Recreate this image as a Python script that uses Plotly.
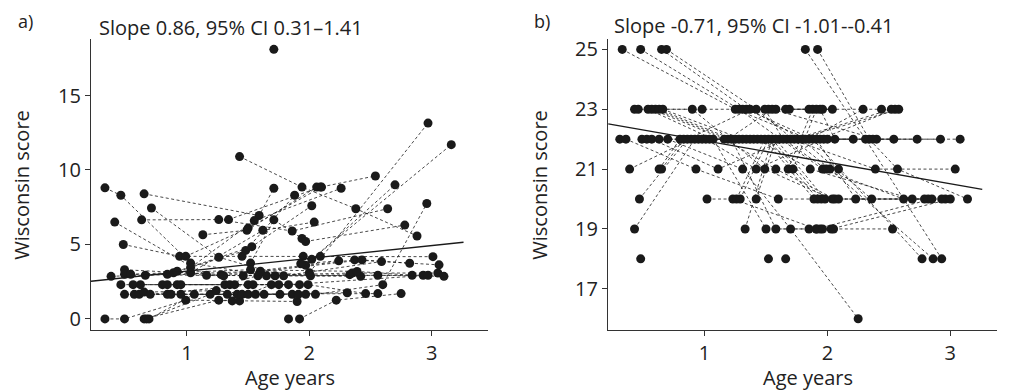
import plotly.graph_objects as go

# ---------------- Panel a data (subjects: age years, Wisconsin score) ----------------
ages_a = [
    [0.33, 0.49, 0.99, 1.37, 1.90],
    [0.65, 1.26, 1.43],
    [0.67, 1.19, 1.76],
    [0.69, 1.06, 1.63, 2.31],
    [1.92, 2.22, 2.75],
    [1.83],
    [0.33, 0.46, 1.03, 1.65, 2.42],
    [0.65, 1.59, 1.71],
    [0.63, 1.26, 1.86, 2.64],
    [0.41, 1.16, 1.72, 2.33],
    [0.71, 1.26, 1.79, 2.59],
    [0.48, 0.94, 1.45, 2.09, 3.01],
    [1.43, 1.94, 2.38, 2.88],
    [1.34, 2.09, 2.54],
    [1.13, 1.49, 2.06],
    [0.99, 1.50, 2.10],
    [1.03, 1.55, 2.26],
    [0.89, 1.48, 1.88],
    [0.92, 1.53, 2.02],
    [1.03, 1.62, 2.04],
    [1.71],
    [1.52, 1.71, 1.94],
    [2.00, 2.97],
    [2.02, 3.16],
    [1.97, 2.70],
    [2.05, 2.60, 2.96],
    [1.97, 2.78],
    [0.38, 0.84, 1.46, 2.35, 3.05],
    [0.49, 1.28, 2.37, 3.06],
    [0.49, 1.30, 2.43, 2.82],
    [0.54, 1.52, 2.39, 2.84],
    [0.66, 1.60, 2.01, 2.56, 3.10],
    [0.46, 0.80, 1.31, 1.58, 2.93],
    [0.56, 0.92, 1.35, 1.83, 2.97],
    [0.62, 0.95, 1.39, 1.92],
    [0.84, 1.50, 1.99, 2.46],
    [0.49, 0.84, 1.33, 1.86],
    [0.57, 0.87, 1.41, 1.91, 2.56],
    [0.61, 0.95, 1.45, 1.97],
    [0.65, 1.24, 1.50, 1.69],
    [0.70, 1.54, 1.75],
    [1.56],
    [1.93, 2.24],
    [1.95],
]
scores_a = [
    [0, 0, 1.26, 1.21, 1.17],
    [0, 1.26, 1.21],
    [0, 1.65, 1.65],
    [0, 1.65, 1.65, 1.76],
    [0, 1.26, 1.7],
    [0],
    [8.8, 8.3, 3.75, 2.9, 2.86],
    [8.4, 6.94, 8.77],
    [6.65, 6.67, 5.9, 7.4],
    [6.5, 2.93, 2.9, 2.97],
    [7.45, 4.14, 2.9, 3.85],
    [5.0, 4.2, 4.2, 4.2, 4.18],
    [10.9, 8.85, 7.4, 5.57],
    [6.67, 8.85, 9.6],
    [5.65, 5.95, 8.85],
    [4.2, 6.1, 8.85],
    [3.45, 6.6, 8.77],
    [3.1, 4.6, 8.3],
    [3.2, 4.85, 7.6],
    [3.1, 5.95, 6.5],
    [18.1],
    [3.75, 6.65, 5.4],
    [3.1, 13.15],
    [4.0, 11.7],
    [3.6, 9.0],
    [1.65, 2.3, 7.75],
    [5.2, 6.3],
    [2.86, 3.0, 2.9, 3.08, 3.08],
    [3.3, 2.97, 3.96, 3.63],
    [3.0, 2.9, 3.96, 3.74],
    [3.0, 3.3, 3.19, 2.93],
    [2.93, 3.2, 2.9, 2.93, 2.86],
    [2.3, 2.3, 2.3, 2.9, 2.93],
    [2.3, 2.3, 2.3, 2.3, 2.93],
    [2.3, 2.3, 2.3, 2.3],
    [2.3, 2.3, 2.3, 1.7],
    [1.65, 1.65, 1.65, 1.65],
    [1.65, 1.65, 1.65, 1.65, 1.7],
    [1.65, 1.65, 1.65, 1.65],
    [1.8, 1.9, 1.65, 2.3],
    [1.65, 2.3, 2.3],
    [1.65],
    [3.7, 3.9],
    [4.2],
]

# ---------------- Panel b data ----------------
ages_b = [
    [0.33, 1.25, 1.85, 2.29],
    [0.48, 1.28, 1.96, 2.62],
    [0.65, 1.34, 1.88, 2.77],
    [0.69, 1.42, 2.02, 2.86],
    [1.82, 2.31, 2.93],
    [1.92, 2.34, 2.57, 3.14],
    [0.31, 0.36, 0.93, 1.60, 2.79],
    [0.43, 0.90, 1.49, 2.04, 2.82],
    [0.46, 0.98, 1.52, 2.44],
    [0.54, 1.07, 1.50, 1.91, 2.85],
    [0.57, 1.16, 1.58, 2.06, 2.96],
    [0.60, 1.19, 1.55, 2.40],
    [0.63, 1.22, 1.58, 1.94, 2.53],
    [0.66, 1.31, 1.94, 2.55],
    [0.49, 1.01, 1.42, 1.97, 2.54],
    [0.53, 1.04, 1.61, 2.21],
    [0.57, 1.11, 1.67, 2.37, 3.08],
    [0.63, 1.25, 1.70, 2.39, 3.04],
    [0.70, 1.31, 1.70, 2.25],
    [0.39, 0.89, 1.37, 2.00, 2.73],
    [0.63, 0.80, 1.28, 1.73, 2.52],
    [0.65, 0.83, 1.34, 1.76, 2.58],
    [0.47, 0.86, 1.37, 1.79, 2.36],
    [0.43, 0.92, 1.40, 1.82, 2.92],
    [0.48],
    [0.95, 1.43, 1.86, 2.69],
    [0.98, 1.46, 1.91, 2.23, 2.93],
    [1.02, 1.23, 1.91, 2.03, 3.00],
    [1.26, 1.49, 1.89, 2.09],
    [1.29, 1.52, 1.92],
    [1.33, 1.55, 1.95],
    [1.42, 1.58, 1.98],
    [1.49, 1.64, 1.99, 2.09],
    [1.31, 1.58, 2.04],
    [1.66, 1.94, 2.06],
    [1.68, 1.88],
    [1.72, 1.91],
    [1.69, 1.85, 1.96],
    [1.85, 2.05],
    [1.96],
    [1.52],
    [1.66],
]
scores_b = [
    [25, 23, 22, 23],
    [25, 23, 21, 20],
    [25, 23, 22, 18],
    [25, 23, 21, 18],
    [25, 22, 18],
    [25, 22, 21, 20],
    [22, 22, 21, 20, 20],
    [23, 23, 21, 20, 20],
    [23, 23, 23, 23],
    [23, 22, 19, 19, 20],
    [23, 22, 21, 20, 20],
    [23, 22, 23, 22],
    [23, 22, 19, 19, 19],
    [23, 22, 22, 23],
    [22, 22, 21, 22, 22],
    [22, 22, 22, 22],
    [22, 21, 22, 22, 22],
    [22, 22, 22, 21, 21],
    [22, 21, 19, 16],
    [21, 22, 22, 22, 22],
    [21, 22, 22, 22, 23],
    [21, 22, 22, 22, 23],
    [20, 22, 23, 22, 20],
    [19, 22, 22, 22, 22],
    [18],
    [22, 22, 21, 20],
    [22, 22, 22, 20, 20],
    [20, 20, 19, 19, 20],
    [20, 22, 20, 20],
    [20, 22, 20],
    [19, 22, 20],
    [20, 22, 20],
    [23, 22, 21, 21],
    [23, 23, 23],
    [23, 23, 22],
    [21, 23],
    [21, 23],
    [23, 23, 23],
    [19, 19],
    [19],
    [18],
    [18],
]

# regression fits (intercept, slope)
fit_a = (2.344, 0.86)
fit_b = (22.67, -0.72)
fit_x_span = [0.216, 3.26]

titles = ["Slope 0.86, 95% CI 0.31\u20131.41", "Slope -0.71, 95% CI -1.01--0.41"]
panel_labels = ["a)", "b)"]
yticks_a = [0, 5, 10, 15]
yticks_b = [17, 19, 21, 23, 25]
xticks = [1, 2, 3]

FONT = "Open Sans"
INK = "#1a1a1a"
TXT = "#222222"
OFF = 8                      # page body margin of the html page
W, H = 1009 - OFF, 391 - OFF


def px_x(p):
    return (p - OFF) / W


def px_y(p):
    return 1 - (p - OFF) / H


fig = go.Figure()


def add_panel(ages, scores, fit, xa, ya):
    lx, ly = [], []
    for a, s in zip(ages, scores):
        if len(a) > 1:
            lx += a + [None]
            ly += s + [None]
    fig.add_trace(go.Scatter(x=lx, y=ly, mode="lines", xaxis=xa, yaxis=ya,
                             line=dict(color=INK, width=0.8, dash="3px,2.5px"),
                             hoverinfo="skip", showlegend=False))
    mx = [v for a in ages for v in a]
    my = [v for s in scores for v in s]
    fig.add_trace(go.Scatter(x=mx, y=my, mode="markers", xaxis=xa, yaxis=ya,
                             marker=dict(color=INK, size=9, line=dict(width=0)),
                             showlegend=False))
    b0, b1 = fit
    fig.add_trace(go.Scatter(x=fit_x_span, y=[b0 + b1 * v for v in fit_x_span],
                             mode="lines", xaxis=xa, yaxis=ya,
                             line=dict(color=INK, width=1.3), showlegend=False))


add_panel(ages_a, scores_a, fit_a, "x", "y")
add_panel(ages_b, scores_b, fit_b, "x2", "y2")

axis_common = dict(showline=True, linecolor="#333333", linewidth=1.3, ticks="outside",
                   ticklen=5, tickwidth=1.2, tickcolor="#333333", showgrid=False,
                   zeroline=False, tickfont=dict(family=FONT, size=20, color=TXT))

ydom = [px_y(331), px_y(36)]
fig.update_layout(
    width=W, height=H, margin=dict(l=0, r=0, t=0, b=0),
    paper_bgcolor="white", plot_bgcolor="white",
    xaxis=dict(domain=[px_x(91), px_x(488)], range=[0.216, 3.46], tickvals=xticks,
               anchor="y", **axis_common),
    yaxis=dict(domain=ydom, range=[-0.73, 18.82], tickvals=yticks_a, anchor="x",
               **axis_common),
    xaxis2=dict(domain=[px_x(608), px_x(997)], range=[0.214, 3.38], tickvals=xticks,
                anchor="y2", **axis_common),
    yaxis2=dict(domain=ydom, range=[15.63, 25.36], tickvals=yticks_b, anchor="x2",
                **axis_common),
)

ann_font = dict(family=FONT, size=20, color=TXT)
anns = [
    dict(text=panel_labels[0], x=px_x(16), y=px_y(18), xanchor="left", yanchor="middle",
         font=dict(family=FONT, size=18, color=TXT)),
    dict(text=panel_labels[1], x=px_x(532), y=px_y(18), xanchor="left", yanchor="middle",
         font=dict(family=FONT, size=18, color=TXT)),
    dict(text=titles[0], x=px_x(97), y=px_y(25), xanchor="left", yanchor="middle"),
    dict(text=titles[1], x=px_x(612), y=px_y(23), xanchor="left", yanchor="middle"),
    dict(text="Age years", x=px_x(290), y=px_y(379), xanchor="center", yanchor="middle"),
    dict(text="Age years", x=px_x(808), y=px_y(379), xanchor="center", yanchor="middle"),
    dict(text="Wisconsin score", x=px_x(22), y=px_y(184), xanchor="center",
         yanchor="middle", textangle=-90),
    dict(text="Wisconsin score", x=px_x(540), y=px_y(184), xanchor="center",
         yanchor="middle", textangle=-90),
]
for a in anns:
    a.setdefault("font", ann_font)
    fig.add_annotation(xref="paper", yref="paper", showarrow=False, **a)

fig.write_html("out.html")
